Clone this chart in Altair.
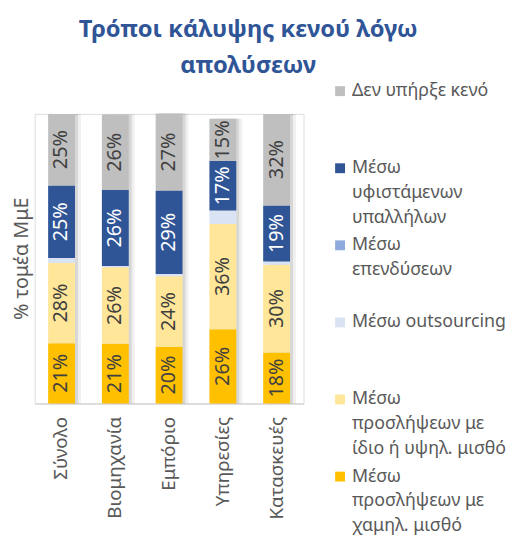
import altair as alt
import pandas as pd

categories = ["Σύνολο", "Βιομηχανία", "Εμπόριο", "Υπηρεσίες", "Κατασκευές"]
series = [
    "Μέσω προσλήψεων με χαμηλ. μισθό",
    "Μέσω προσλήψεων με ίδιο ή υψηλ. μισθό",
    "Μέσω outsourcing",
    "Μέσω επενδύσεων",
    "Μέσω υφιστάμενων υπαλλήλων",
    "Δεν υπήρξε κενό",
]
low_salary = [20.8, 20.6, 19.6, 25.6, 17.6]
high_salary = [27.7, 26.4, 24.3, 36.4, 30.3]
outsourcing = [1.7, 0.5, 0.8, 4.6, 1.1]
investments = [0.0, 0.0, 0.0, 0.0, 0.0]
existing = [25.1, 26.2, 28.8, 17.1, 19.4]
no_gap = [24.7, 26.1, 26.6, 14.6, 31.6]
values = [low_salary, high_salary, outsourcing, investments, existing, no_gap]
colors = ["#FFC000", "#FFE699", "#DAE3F3", "#8FAADC", "#2F5597", "#BFBFBF"]
show_label = [True, True, False, False, True, True]
legend_lines = [
    ["Μέσω", "προσλήψεων με", "χαμηλ. μισθό"],
    ["Μέσω", "προσλήψεων με", "ίδιο ή υψηλ. μισθό"],
    ["Μέσω outsourcing", " ", " "],
    ["Μέσω", "επενδύσεων", " "],
    ["Μέσω", "υφιστάμενων", "υπαλλήλων"],
    ["Δεν υπήρξε κενό", " ", " "],
]

rows = []
for si, s in enumerate(series):
    for ci, c in enumerate(categories):
        rows.append({"cat": c, "series": s, "order": si, "value": values[si][ci],
                     "show": show_label[si]})
df = pd.DataFrame(rows)

legend_domain = list(reversed(series))
legend_range = list(reversed(colors))

expr = "''"
for s, lines in zip(series, legend_lines):
    arr = "[" + ",".join("'" + l + "'" for l in lines) + "]"
    expr = f"datum.label == '{s}' ? {arr} : ({expr})"

FONT = "Noto Sans"
LABEL_DY = -9

base = alt.Chart(df).transform_stack(
    stack="value", groupby=["cat"], as_=["y0", "y1"],
    sort=[alt.SortField("order", order="ascending")]
).transform_calculate(mid="(datum.y0 + datum.y1) / 2")

x_scale = alt.Scale(paddingInner=0.5, paddingOuter=0.25)
y_scale = alt.Scale(domain=[0, 100])

x_enc = alt.X("cat:N", sort=categories, scale=x_scale,
              axis=alt.Axis(title=None, labelAngle=-90, labelAlign="right",
                            labelBaseline="middle", labelPadding=13,
                            labelOffset=-LABEL_DY,
                            labelFont=FONT, labelFontSize=19, labelColor="#595959",
                            domainColor="#D9D9D9", domainWidth=1.5, ticks=False))

shadow1 = base.mark_bar(xOffset=3, color="#000000", opacity=0.10).encode(
    x=alt.X("cat:N", sort=categories, scale=x_scale),
    y=alt.Y("y0:Q", scale=y_scale), y2="y1:Q")
shadow2 = base.mark_bar(xOffset=6, color="#000000", opacity=0.06).encode(
    x=alt.X("cat:N", sort=categories, scale=x_scale),
    y=alt.Y("y0:Q", scale=y_scale), y2="y1:Q")

bars = base.mark_bar().encode(
    x=x_enc,
    y=alt.Y("y0:Q", scale=y_scale,
            axis=alt.Axis(title="% τομέα ΜμΕ", labels=False, ticks=False, domain=False,
                          grid=False, titleFont=FONT, titleFontSize=20,
                          titleFontWeight="normal", titleColor="#595959",
                          titleAngle=270, titleAlign="center", titleBaseline="middle",
                          titleX=-13, titleY=146)),
    y2="y1:Q",
    color=alt.Color("series:N",
                    scale=alt.Scale(domain=legend_domain, range=legend_range),
                    legend=alt.Legend(title=None, orient="none", legendX=300, legendY=-32,
                                      symbolType="square", symbolSize=100,
                                      symbolStrokeWidth=0,
                                      labelFont=FONT, labelFontSize=18,
                                      labelColor="#595959", labelExpr=expr,
                                      labelBaseline="top", labelLimit=300,
                                      labelOffset=3, rowPadding=10)),
)

texts = base.transform_filter("datum.show").transform_calculate(
    lbl="round(datum.value) + '%'"
).mark_text(angle=270, font=FONT, fontSize=20, align="center", baseline="middle").encode(
    x=alt.X("cat:N", sort=categories, scale=x_scale),
    y=alt.Y("mid:Q", scale=y_scale),
    text="lbl:N",
    color=alt.condition("datum.series == 'Μέσω υφιστάμενων υπαλλήλων'",
                        alt.value("#FFFFFF"), alt.value("#404040")),
)

chart = alt.layer(shadow2, shadow1, bars, texts).properties(
    width=272, height=293,
    autosize=alt.AutoSizeParams(type="none"),
    padding={"left": 27, "top": 104, "right": 214, "bottom": 133},
    title=alt.TitleParams(["Τρόποι κάλυψης κενού λόγω", "απολύσεων"],
                          anchor="middle", dx=80, offset=4, font=FONT, fontSize=24,
                          fontWeight="bold", color="#2F5597", lineHeight=37),
).configure_view(stroke=None).configure(
    style={"guide-label": {"lineHeight": 25, "dy": LABEL_DY}}
)

chart.save("out.html", embed_options={"renderer": "svg", "actions": False})
